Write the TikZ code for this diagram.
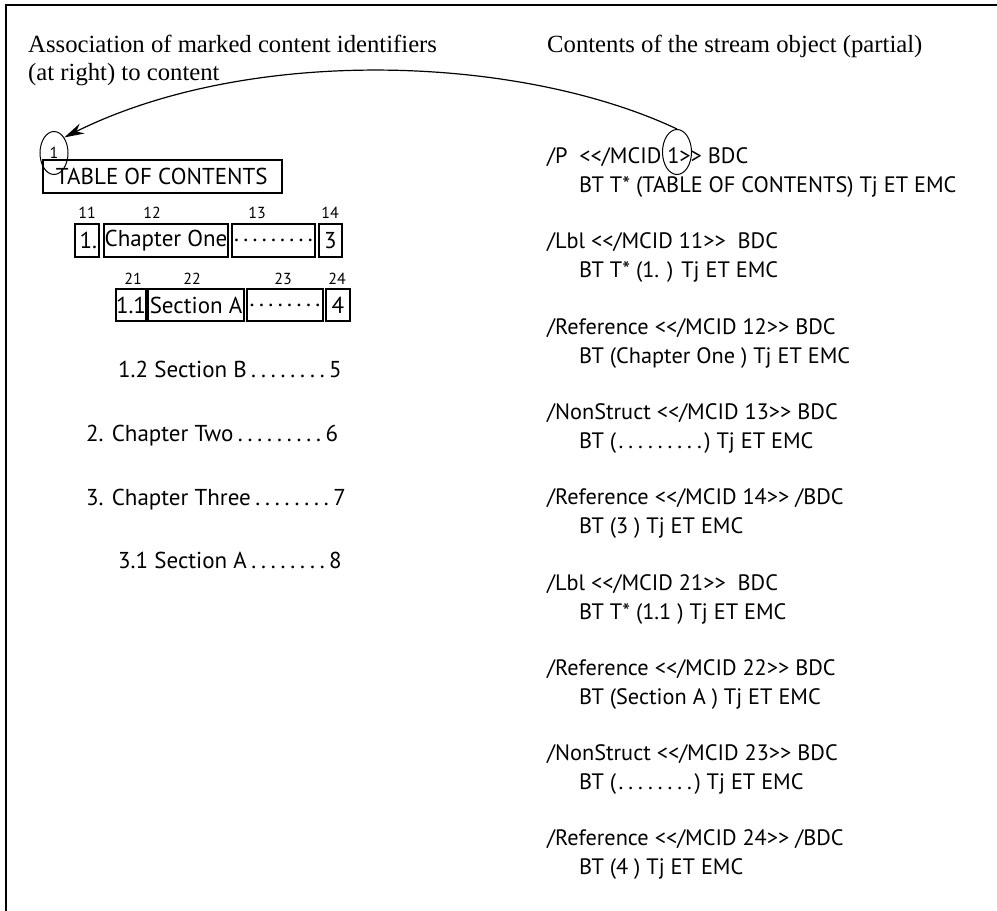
\documentclass[tikz,border=0pt]{standalone}
\usepackage{fontspec}
\setmainfont{Liberation Serif}
\newfontfamily\myriad{PT Sans}
\usetikzlibrary{shapes.geometric}
\usetikzlibrary{positioning}
\usetikzlibrary{arrows.meta}

\newcount\dotcnt
\newcommand{\dotrun}[2]{\dotcnt=0 \loop\hbox to #2pt{\hss.\hss}\advance\dotcnt by 1 \ifnum\dotcnt<#1\repeat}

\tikzset{
  head/.style={anchor=base west, inner sep=0pt, font=\fontsize{24.7}{28}\selectfont},
  code/.style={anchor=base west, inner sep=0pt, font=\myriad\fontsize{22.3}{26}\selectfont},
  toc/.style={anchor=base west, inner sep=0pt, font=\myriad\fontsize{23}{28}\selectfont},
  tag/.style={inner sep=0pt, font=\myriad\fontsize{16}{19}\selectfont},
  mcbox/.style={draw, line width=1.5pt, inner sep=0pt, minimum height=33pt,
    font=\myriad\fontsize{23}{28}\selectfont},
  idring/.style={draw, ellipse, line width=1pt, inner sep=0pt}
}

\begin{document}
\begin{tikzpicture}[x=1pt,y=-1pt]
  \useasboundingbox (0,0) rectangle (997,911);
  \draw[line width=2.5pt] (6,911) -- (6,5) -- (997,5);

  % headings
  \node[head] (lhead1) at (28,52) {Association of marked content identifiers};
  \node[head] (lhead2) at (28,80) {(at right) to content};
  \node[head] (rhead) at (547,52) {Contents of the stream object (partial)};

  % table of contents with marked content boxes
  \node[mcbox, minimum width=239pt, inner xsep=13pt] (tochead) at (162.5,176.5) {\hbox to 213pt{TABLE OF CONTENTS\hss}};
  \node[idring, tag, minimum width=28pt, minimum height=43pt] (lone) at (54,153) {1};

  \node[mcbox, minimum width=24pt] (b11) at (87,240.5) {\hbox to 20pt{\hss1.}};
  \node[mcbox, minimum width=124pt] (b12) at (166,240.5) {Chapter One};
  \node[mcbox, minimum width=83pt] (b13) at (273.5,240.5) {\dotrun{9}{9.2}};
  \node[mcbox, minimum width=23pt] (b14) at (330.5,240.5) {3};
  \node[tag] (t11) at (87,213) {11};
  \node[tag] (t12) at (152,213) {12};
  \node[tag] (t13) at (257,213) {13};
  \node[tag] (t14) at (330,213) {14};

  \node[mcbox, minimum width=26pt, minimum height=32pt] (b21) at (131,305) {1.1};
  \node[mcbox, minimum width=96pt, minimum height=32pt] (b22) at (196,305) {Section A};
  \node[mcbox, minimum width=76pt, minimum height=32pt] (b23) at (285,305) {\dotrun{8}{9.4}};
  \node[mcbox, minimum width=24pt, minimum height=32pt] (b24) at (338,305) {4};
  \node[tag] (t21) at (133,279) {21};
  \node[tag] (t22) at (192,279) {22};
  \node[tag] (t23) at (283,279) {23};
  \node[tag] (t24) at (337,279) {24};

  \node[toc] (r12) at (118,377) {1.2 Section B\hskip2pt\dotrun{8}{9.8}\hskip2pt 5};
  \node[toc] (r2) at (86,441) {2. Chapter Two\hskip2pt\dotrun{9}{9.8}\hskip2pt 6};
  \node[toc] (r3) at (86,505) {3. Chapter Three\hskip2pt\dotrun{8}{9.8}\hskip2pt 7};
  \node[toc] (r31) at (118,568) {3.1 Section A\hskip2pt\dotrun{8}{9.8}\hskip2pt 8};

  % stream object contents
  \node[code] (c1a) at (547,163) {/P\ \ <</MCID 1>> BDC};
  \node[code] (c1b) at (579,192) {BT T* (TABLE OF CONTENTS) Tj ET EMC};
  \node[code] (c2a) at (547,248) {/Lbl <</MCID 11>>\ \ BDC};
  \node[code] (c2b) at (579,277) {BT T* (1. ) Tj ET EMC};
  \node[code] (c3a) at (547,334) {/Reference <</MCID 12>> BDC};
  \node[code] (c3b) at (579,363) {BT (Chapter One ) Tj ET EMC};
  \node[code] (c4a) at (547,419) {/NonStruct <</MCID 13>> BDC};
  \node[code] (c4b) at (579,448) {BT (\dotrun{9}{9.8}) Tj ET EMC};
  \node[code] (c5a) at (547,504) {/Reference <</MCID 14>> /BDC};
  \node[code] (c5b) at (579,533) {BT (3 ) Tj ET EMC};
  \node[code] (c6a) at (547,590) {/Lbl <</MCID 21>>\ \ BDC};
  \node[code] (c6b) at (579,619) {BT T* (1.1 ) Tj ET EMC};
  \node[code] (c7a) at (547,675) {/Reference <</MCID 22>> BDC};
  \node[code] (c7b) at (579,704) {BT (Section A ) Tj ET EMC};
  \node[code] (c8a) at (547,760) {/NonStruct <</MCID 23>> BDC};
  \node[code] (c8b) at (579,789) {BT (\dotrun{8}{9.8}) Tj ET EMC};
  \node[code] (c9a) at (547,845) {/Reference <</MCID 24>> /BDC};
  \node[code] (c9b) at (579,874) {BT (4 ) Tj ET EMC};

  \node[idring, minimum width=29pt, minimum height=45pt] (rone) at (677,152) {};

  % link from the identifier to its content
  \draw[line width=1.2pt, -{Stealth[length=20pt,width=11pt]}] (rone.north) .. controls (520,55) and (250,45) .. (lone.north east);
\end{tikzpicture}
\end{document}
